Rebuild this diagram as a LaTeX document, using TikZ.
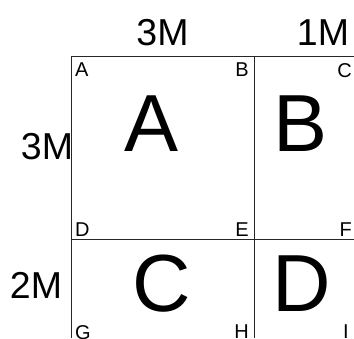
\documentclass[tikz,border=0pt]{standalone}
\usepackage{fontspec}
\setmainfont{Liberation Sans}
\begin{document}
\begin{tikzpicture}[
        x=1pt, y=-1pt,
        gridline/.style={draw=black!85, line width=0.9pt},
        corner/.style={inner sep=0pt, font=\fontsize{20}{20}\selectfont},
        region/.style={inner sep=0pt, font=\fontsize{81}{81}\selectfont},
        size_label/.style={inner sep=0pt, font=\fontsize{37.5}{37.5}\selectfont}
    ]
        \useasboundingbox (0,0) rectangle (354,338);

        % grid corners
        \coordinate (top_left) at (71,56.5);
        \coordinate (top_mid) at (254,56.5);
        \coordinate (top_right) at (354,56.5);
        \coordinate (mid_left) at (71,239.5);
        \coordinate (mid_right) at (354,239.5);
        \coordinate (bot_left) at (71,338);
        \coordinate (bot_mid) at (254,338);

        \draw[gridline] (top_right) -- (top_left) -- (bot_left);
        \draw[gridline] (top_mid) -- (bot_mid);
        \draw[gridline] (mid_left) -- (mid_right);

        % sizes
        \node[size_label] (size_top1) at (162.5,33) {3M};
        \node[size_label] (size_top2) at (323,33) {1M};
        \node[size_label] (size_left1) at (47,147) {3M};
        \node[size_label] (size_left2) at (36,285) {2M};

        % regions
        \node[region] (region_a) at (151.5,123.5) {A};
        \node[region] (region_b) at (300.5,123.5) {B};
        \node[region] (region_c) at (162,283.5) {C};
        \node[region] (region_d) at (301.5,284) {D};

        % corner points
        \node[corner, anchor=north west] (pt_a) at (75,63) {A};
        \node[corner, anchor=north east] (pt_b) at (249,63) {B};
        \node[corner, anchor=north east] (pt_c) at (352,63) {C};
        \node[corner, anchor=north west] (pt_d) at (75,223) {D};
        \node[corner, anchor=north east] (pt_e) at (249,223) {E};
        \node[corner, anchor=north east] (pt_f) at (352,223) {F};
        \node[corner, anchor=north west] (pt_g) at (75,325) {G};
        \node[corner, anchor=north east] (pt_h) at (249,325) {H};
        \node[corner, anchor=north east] (pt_i) at (349,325) {I};

\end{tikzpicture}
\end{document}
